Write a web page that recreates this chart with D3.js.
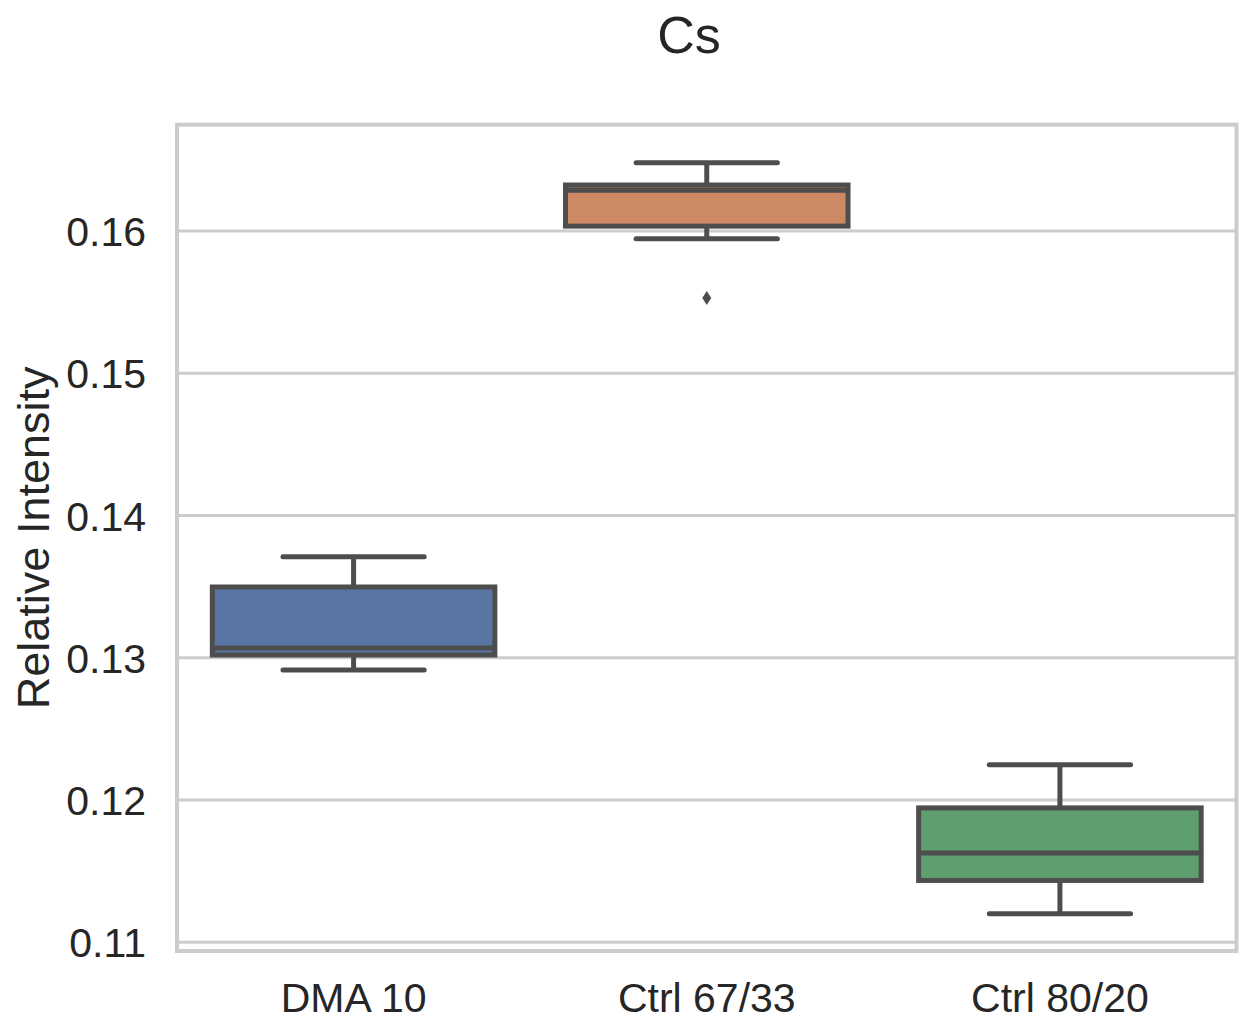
<!DOCTYPE html>
<html>
<head>
<meta charset="utf-8">
<script src="https://cdn.jsdelivr.net/npm/d3@7"></script>
<style>
  body { margin: 0; background: #fff; }
  text { font-family: "Liberation Sans", Arial, sans-serif; fill: #262626; }
</style>
</head>
<body>
<div id="chart"></div>
<script>
'use strict';

// box summaries
const categories  = ['DMA 10', 'Ctrl 67/33', 'Ctrl 80/20'];
const whiskerLow  = [0.12914, 0.15946, 0.11199];
const q1          = [0.13019, 0.16034, 0.11434];
const median      = [0.13068, 0.16286, 0.11627];
const q3          = [0.13497, 0.16323, 0.11944];
const whiskerHigh = [0.13710, 0.16480, 0.12248];
const outliers    = [{cat: 'Ctrl 67/33', value: 0.15529}];
const yTicks      = [0.11, 0.12, 0.13, 0.14, 0.15, 0.16];
const colors      = ['#5875a4', '#cc8963', '#5f9e6e'];

const width  = 1239;
const height = 1024;
const plot = {left: 177, right: 1236.5, top: 124.7, bottom: 951};
const lineColor = '#4d4d4d';
const gridColor = '#cccccc';
const lw = 5;

const svg = d3.select('#chart').append('svg')
    .attr('width', width)
    .attr('height', height);

const x = d3.scaleBand()
    .domain(categories)
    .range([plot.left, plot.right])
    .padding(0);

const y = d3.scaleLinear()
    .domain([0.10938, 0.16747])
    .range([plot.bottom, plot.top]);

// grid lines
svg.append('g').selectAll('line')
    .data(yTicks)
    .enter()
    .append('line')
    .attr('x1', plot.left)
    .attr('x2', plot.right)
    .attr('y1', d => y(d))
    .attr('y2', d => y(d))
    .attr('stroke', gridColor)
    .attr('stroke-width', 3);

// frame
svg.append('rect')
    .attr('x', plot.left)
    .attr('y', plot.top)
    .attr('width', plot.right - plot.left)
    .attr('height', plot.bottom - plot.top)
    .attr('fill', 'none')
    .attr('stroke', gridColor)
    .attr('stroke-width', 4);

// y axis (labels only, seaborn whitegrid style)
const yAxis = d3.axisLeft(y)
    .tickValues(yTicks)
    .tickFormat(d3.format('.2f'))
    .tickSize(0)
    .tickPadding(31);
const yg = svg.append('g')
    .attr('transform', 'translate(' + plot.left + ',0)')
    .call(yAxis);
yg.select('.domain').remove();
yg.selectAll('text')
    .style('font-family', '"Liberation Sans", Arial, sans-serif')
    .style('font-size', '41px')
    .attr('fill', '#262626')
    .attr('dy', '0.36em');

// x axis
const xAxis = d3.axisBottom(x).tickSize(0).tickPadding(32);
const xg = svg.append('g')
    .attr('transform', 'translate(0,' + plot.bottom + ')')
    .call(xAxis);
xg.select('.domain').remove();
xg.selectAll('text')
    .style('font-family', '"Liberation Sans", Arial, sans-serif')
    .style('font-size', '41px')
    .attr('fill', '#262626');

const boxes = categories.map((c, i) => ({
    cat: c, lo: whiskerLow[i], q1: q1[i], med: median[i], q3: q3[i], hi: whiskerHigh[i], color: colors[i]
}));

const boxW = x.bandwidth() * 0.8;
const capW = boxW / 2;
const g = svg.append('g');

boxes.forEach(b => {
    const cx = x(b.cat) + x.bandwidth() / 2;
    // whiskers
    g.append('line')
        .attr('x1', cx).attr('x2', cx)
        .attr('y1', y(b.q3)).attr('y2', y(b.hi))
        .attr('stroke', lineColor).attr('stroke-width', lw);
    g.append('line')
        .attr('x1', cx).attr('x2', cx)
        .attr('y1', y(b.q1)).attr('y2', y(b.lo))
        .attr('stroke', lineColor).attr('stroke-width', lw);
    // caps
    [b.lo, b.hi].forEach(v => {
        g.append('line')
            .attr('x1', cx - capW / 2).attr('x2', cx + capW / 2)
            .attr('y1', y(v)).attr('y2', y(v))
            .attr('stroke', lineColor).attr('stroke-width', lw)
            .attr('stroke-linecap', 'round');
    });
    // box
    g.append('rect')
        .attr('x', cx - boxW / 2)
        .attr('y', y(b.q3))
        .attr('width', boxW)
        .attr('height', y(b.q1) - y(b.q3))
        .attr('fill', b.color)
        .attr('stroke', lineColor)
        .attr('stroke-width', lw);
    // median
    g.append('line')
        .attr('x1', cx - boxW / 2).attr('x2', cx + boxW / 2)
        .attr('y1', y(b.med)).attr('y2', y(b.med))
        .attr('stroke', lineColor).attr('stroke-width', lw);
});

// outliers as thin diamonds
g.selectAll('path.outlier')
    .data(outliers)
    .enter()
    .append('path')
    .attr('class', 'outlier')
    .attr('transform', d => 'translate(' + (x(d.cat) + x.bandwidth() / 2) + ',' + y(d.value) + ')')
    .attr('d', 'M0,-7L4.5,0L0,7L-4.5,0Z')
    .attr('fill', lineColor);

// title
svg.append('text')
    .attr('x', 689)
    .attr('y', 53)
    .attr('text-anchor', 'middle')
    .style('font-size', '52px')
    .text('Cs');

// y label
svg.append('text')
    .attr('transform', 'translate(49,' + ((plot.top + plot.bottom) / 2) + ') rotate(-90)')
    .attr('text-anchor', 'middle')
    .style('font-size', '45px')
    .text('Relative Intensity');
</script>
</body>
</html>
